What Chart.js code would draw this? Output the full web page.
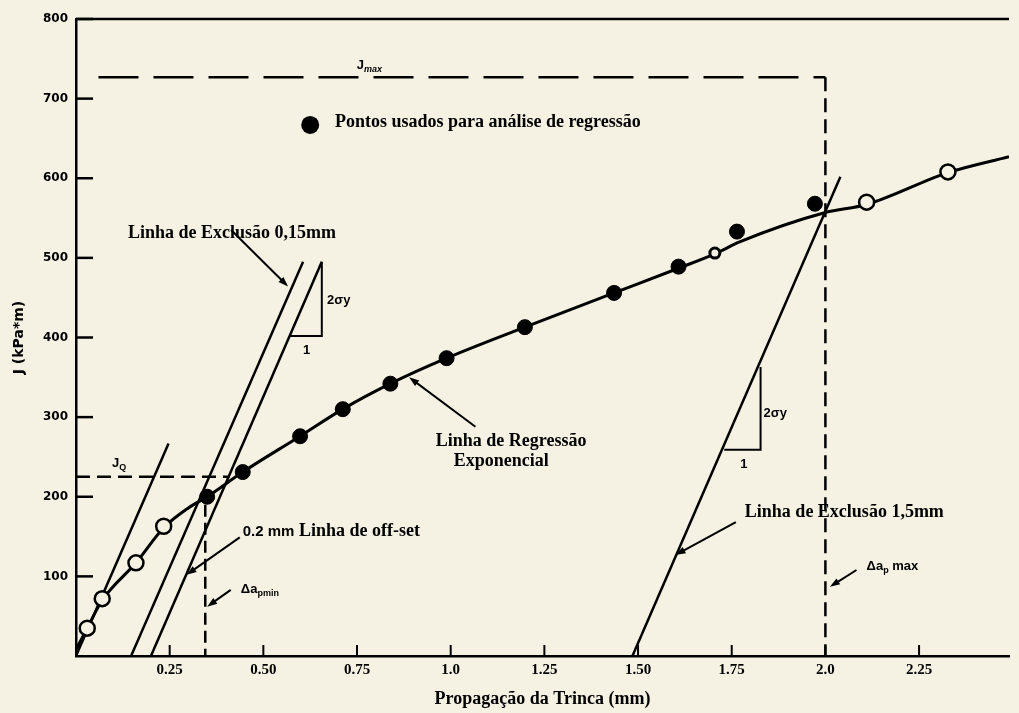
<!DOCTYPE html>
<html>
<head>
<meta charset="utf-8">
<title>Curva J-R</title>
<script src="https://cdn.jsdelivr.net/npm/chart.js@4.4.1/dist/chart.umd.min.js"></script>
<style>
  html, body { margin: 0; padding: 0; background: #f5f2e4; }
  canvas { display: block; }
</style>
</head>
<body>
<canvas id="chart" width="1019" height="713"></canvas>
<script>
// ---- Data: crack extension Δa (mm) and J (kPa·m) ----
const usedDa   = [0.350, 0.445, 0.598, 0.712, 0.839, 0.989, 1.198, 1.436, 1.608, 1.764, 1.972];
const usedJ    = [200, 231, 276, 310, 342, 374, 413, 456, 489, 533, 568];
const ringDa   = [1.705];
const ringJ    = [506];
const otherDa  = [0.030, 0.070, 0.160, 0.234, 2.110, 2.327];
const otherJ   = [35, 72, 117, 163, 570, 608];

// regression curve traced through the measurements
const curveDa  = [0, 0.030, 0.070, 0.160, 0.234, 0.300, 0.350, 0.445, 0.598, 0.712, 0.839, 0.989, 1.198, 1.436, 1.608, 1.705, 1.771, 2.000, 2.110, 2.327, 2.490];
const curveJ   = [8, 35, 70, 117, 161, 186, 200, 231, 276, 310, 342, 374, 413, 456, 487, 505, 520, 557, 567, 607, 627];

// construction lines (slope 2σy)
const bluntDa    = [0, 0.247];
const bluntJ     = [0, 267];
const excl015Da  = [0.147, 0.606];
const excl015J   = [0, 495];
const offset02Da = [0.200, 0.656];
const offset02J  = [0, 495];
const slope1Da   = [0.656, 0.656, 0.572];
const slope1J    = [495, 402, 402];
const excl15Da   = [1.485, 2.040];
const excl15J    = [0, 602];
const slope2Da   = [1.827, 1.827, 1.730];
const slope2J    = [363, 259, 259];

// limits
const jMaxDa = [0.06, 2.0];
const jMaxJ  = [727, 727];
const daMaxDa = [2.0, 2.0];
const daMaxJ  = [727, 0];
const jQDa   = [0, 0.41];
const jQJ    = [225, 225];
const daMinDa = [0.345, 0.345];
const daMinJ  = [190, 0];

// axis ticks
const X_TICKS = [0.25, 0.5, 0.75, 1.0, 1.25, 1.5, 1.75, 2.0, 2.25];
const X_TICK_LABELS = ['0.25', '0.50', '0.75', '1.0', '1.25', '1.50', '1.75', '2.0', '2.25'];
const Y_TICKS = [100, 200, 300, 400, 500, 600, 700, 800];

// ---- styling ----
const BG = '#f5f2e4';
const INK = '#000';
const SERIF = 'bold 18px "Liberation Serif", "DejaVu Serif", serif';
const SANS = 'bold 13px "Liberation Sans", Arial, sans-serif';
const SANS_SUB = 'bold 9px "Liberation Sans", Arial, sans-serif';

const pts = (xs, ys) => xs.map((x, i) => ({ x, y: ys[i] }));

function lineSet(xs, ys, width, dash) {
  return {
    data: pts(xs, ys), showLine: true, borderColor: INK, borderWidth: width,
    borderDash: dash || [], pointRadius: 0, tension: 0, order: 2, borderCapStyle: 'butt'
  };
}

const datasets = [
  { data: pts(usedDa, usedJ), pointRadius: 7.5, pointBackgroundColor: INK, pointBorderColor: INK, pointBorderWidth: 1, showLine: false, order: 0 },
  { data: pts(ringDa, ringJ), pointRadius: 5, pointBackgroundColor: BG, pointBorderColor: INK, pointBorderWidth: 3, showLine: false, order: 0 },
  { data: pts(otherDa, otherJ), pointRadius: 7.5, pointBackgroundColor: BG, pointBorderColor: INK, pointBorderWidth: 2.5, showLine: false, order: 0 },
  Object.assign(lineSet(curveDa, curveJ, 3), { tension: 0.4, cubicInterpolationMode: 'monotone', order: 1 }),
  lineSet(bluntDa, bluntJ, 2.5),
  lineSet(excl015Da, excl015J, 2.5),
  lineSet(offset02Da, offset02J, 2.5),
  lineSet(slope1Da, slope1J, 2),
  lineSet(excl15Da, excl15J, 2.5),
  lineSet(slope2Da, slope2J, 2),
  lineSet(jMaxDa, jMaxJ, 2.5, [40, 15]),
  lineSet(daMaxDa, daMaxJ, 2.5, [14, 7]),
  lineSet(jQDa, jQJ, 2.5, [14, 7]),
  lineSet(daMinDa, daMinJ, 2.5, [12, 6])
];

// ---- annotation layer ----
const texts = [
  { parts: [['Pontos usados para análise de regressão', SERIF, 0]], x: 0.691, y: 670 },
  { parts: [['J', SANS, 0], ['max', 'italic ' + SANS_SUB, 4]], x: 0.749, y: 742 },
  { parts: [['Linha de Exclusão 0,15mm', SERIF, 0]], x: 0.139, y: 531 },
  { parts: [['2σy', SANS, 0]], x: 0.670, y: 447 },
  { parts: [['1', SANS, 0]], x: 0.606, y: 384 },
  { parts: [['Linha de Regressão', SERIF, 0]], x: 0.960, y: 269 },
  { parts: [['Exponencial', SERIF, 0]], x: 1.008, y: 244 },
  { parts: [['J', SANS, 0], ['Q', SANS_SUB, 4]], x: 0.096, y: 242 },
  { parts: [['0.2 mm', 'bold 15px "Liberation Sans", Arial, sans-serif', 0], [' Linha de off-set', SERIF, 0]], x: 0.445, y: 156 },
  { parts: [['Δa', SANS, 0], ['pmin', SANS_SUB, 4]], x: 0.440, y: 83 },
  { parts: [['Linha de Exclusão 1,5mm', SERIF, 0]], x: 1.785, y: 180 },
  { parts: [['Δa', SANS, 0], ['p', SANS_SUB, 4], [' max', SANS, 0]], x: 2.110, y: 112 },
  { parts: [['2σy', SANS, 0]], x: 1.835, y: 305 },
  { parts: [['1', SANS, 0]], x: 1.773, y: 240 }
];
const arrows = [
  [0.414, 535, 0.566, 464],
  [1.066, 288, 0.889, 350],
  [0.437, 149, 0.295, 102],
  [0.413, 83, 0.350, 62],
  [1.761, 168, 1.600, 127],
  [2.083, 108, 2.012, 87]
];
const legendDot = { x: 0.625, y: 667 };

const decor = {
  id: 'decor',
  beforeDraw(c) {
    const ctx = c.ctx;
    ctx.save();
    ctx.fillStyle = BG;
    ctx.fillRect(0, 0, c.width, c.height);
    ctx.restore();
  },
  afterDraw(c) {
    const ctx = c.ctx, xs = c.scales.x, ys = c.scales.y, a = c.chartArea;
    const X = v => xs.getPixelForValue(v), Y = v => ys.getPixelForValue(v);
    ctx.save();
    ctx.strokeStyle = INK; ctx.fillStyle = INK; ctx.lineCap = 'butt';

    // top frame line
    ctx.lineWidth = 2.5;
    ctx.beginPath(); ctx.moveTo(a.left, a.top); ctx.lineTo(a.right, a.top); ctx.stroke();

    // inward tick marks
    ctx.lineWidth = 2.5;
    Y_TICKS.forEach(v => {
      ctx.beginPath(); ctx.moveTo(a.left, Y(v)); ctx.lineTo(a.left + 17, Y(v)); ctx.stroke();
    });
    ctx.lineWidth = 2;
    X_TICKS.forEach(v => {
      ctx.beginPath(); ctx.moveTo(X(v), a.bottom); ctx.lineTo(X(v), a.bottom - 11); ctx.stroke();
    });

    // arrows
    arrows.forEach(([x1, y1, x2, y2]) => {
      const p1 = [X(x1), Y(y1)], p2 = [X(x2), Y(y2)];
      const ang = Math.atan2(p2[1] - p1[1], p2[0] - p1[0]);
      ctx.lineWidth = 2;
      ctx.beginPath(); ctx.moveTo(p1[0], p1[1]);
      ctx.lineTo(p2[0] - 6 * Math.cos(ang), p2[1] - 6 * Math.sin(ang)); ctx.stroke();
      ctx.beginPath();
      ctx.moveTo(p2[0], p2[1]);
      ctx.lineTo(p2[0] - 10 * Math.cos(ang) + 3.5 * Math.sin(ang), p2[1] - 10 * Math.sin(ang) - 3.5 * Math.cos(ang));
      ctx.lineTo(p2[0] - 10 * Math.cos(ang) - 3.5 * Math.sin(ang), p2[1] - 10 * Math.sin(ang) + 3.5 * Math.cos(ang));
      ctx.closePath(); ctx.fill();
    });

    // legend marker
    ctx.beginPath(); ctx.arc(X(legendDot.x), Y(legendDot.y), 9, 0, Math.PI * 2); ctx.fill();

    // labels
    ctx.textAlign = 'left'; ctx.textBaseline = 'middle';
    texts.forEach(t => {
      let x = X(t.x);
      const y = Y(t.y);
      t.parts.forEach(([s, f, dy]) => {
        ctx.font = f;
        ctx.fillText(s, x, y + dy);
        x += ctx.measureText(s).width;
      });
    });
    ctx.restore();
  }
};

new Chart(document.getElementById('chart'), {
  type: 'scatter',
  data: { datasets },
  options: {
    responsive: false,
    devicePixelRatio: 1,
    animation: false,
    layout: { padding: { top: 19, left: 0, right: 0, bottom: 0 } },
    plugins: { legend: { display: false }, tooltip: { enabled: false } },
    scales: {
      x: {
        type: 'linear', min: 0, max: 2.49, position: 'bottom',
        afterBuildTicks: s => { s.ticks = X_TICKS.map(v => ({ value: v })); },
        afterFit: s => { s.height = 57; },
        grid: { display: false, drawTicks: false },
        border: { display: true, color: INK, width: 2.5 },
        ticks: {
          color: INK, padding: 5, maxRotation: 0, autoSkip: false,
          font: { family: '"Liberation Sans Narrow", "Liberation Serif", serif', size: 15, weight: 'bold' },
          callback: (v, i) => X_TICK_LABELS[i]
        },
        title: {
          display: true, text: 'Propagação da Trinca (mm)', color: INK,
          font: { family: '"Liberation Serif", serif', size: 18, weight: 'bold' },
          padding: { top: 0, bottom: 3 }
        }
      },
      y: {
        type: 'linear', min: 0, max: 800,
        afterBuildTicks: s => { s.ticks = Y_TICKS.map(v => ({ value: v })); },
        afterFit: s => { s.width = 76; },
        grid: { display: false, drawTicks: false },
        border: { display: true, color: INK, width: 2.5 },
        ticks: {
          color: INK, padding: 8,
          font: { family: '"DejaVu Sans", sans-serif', size: 12, weight: 'bold' }
        },
        title: {
          display: true, text: 'J (kPa*m)', color: INK,
          font: { family: '"DejaVu Sans", sans-serif', size: 14, weight: 'bold' },
          padding: { top: 11, bottom: 0 }
        }
      }
    }
  },
  plugins: [decor]
});
</script>
</body>
</html>
